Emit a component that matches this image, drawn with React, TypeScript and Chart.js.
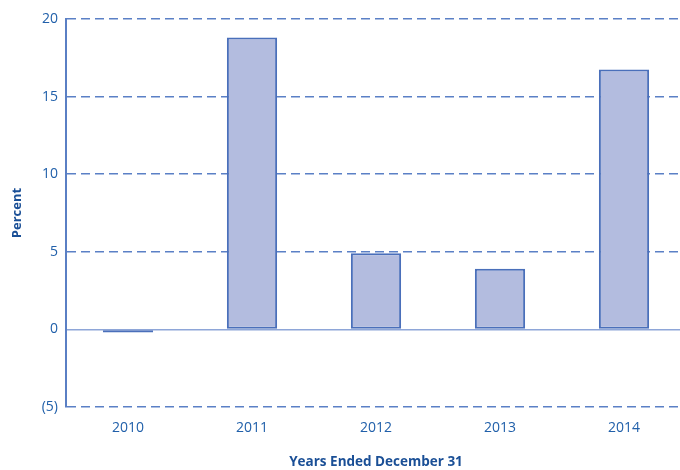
import React, { useEffect, useRef } from "react";
import { Chart, registerables } from "chart.js";

Chart.register(...registerables);

const categories = ["2010", "2011", "2012", "2013", "2014"];
const values = [-0.2, 18.8, 4.9, 3.9, 16.75];
const yTickLabels: Record<number, string> = { 20: "20", 15: "15", 10: "10", 5: "5", 0: "0", [-5]: "(5)" };

const FONT = "'Open Sans', 'Noto Sans', sans-serif";
const TEXT = "#2160aa";
const TITLE = "#1a4f96";
const GRID = "#5b80c6";

export default function App() {
  const ref = useRef<HTMLCanvasElement | null>(null);
  useEffect(() => {
    if (!ref.current) return;
    const chart = new Chart(ref.current, {
      type: "bar",
      data: {
        labels: categories,
        datasets: [
          {
            data: values,
            backgroundColor: "#b3bcdf",
            borderColor: "#4a6fba",
            borderWidth: 2,
            borderSkipped: false,
            barPercentage: 0.405,
            categoryPercentage: 1,
          },
        ],
      },
      options: {
        animation: false,
        responsive: false,
        maintainAspectRatio: false,
        layout: { padding: { top: 19, right: 0, left: 0, bottom: 0 } },
        plugins: { legend: { display: false }, tooltip: { enabled: false } },
        scales: {
          x: {
            grid: { display: false, drawTicks: false },
            border: { display: false },
            ticks: { color: TEXT, font: { family: FONT, size: 14 }, padding: 13 },
            title: {
              display: true,
              text: "Years Ended December 31",
              color: TITLE,
              font: { family: FONT, size: 13.5, weight: "bold" },
              padding: { top: 15, bottom: 0 },
            },
            afterFit: (s: any) => {
              s.height = 63;
            },
          },
          y: {
            min: -5,
            max: 20,
            ticks: {
              stepSize: 5,
              color: TEXT,
              font: { family: FONT, size: 14 },
              padding: 8,
              callback: (v: any) => yTickLabels[v as number] ?? String(v),
            },
            grid: {
              drawTicks: false,
              color: (ctx: any) => (ctx.tick && ctx.tick.value === 0 ? "#8ea6d8" : GRID),
              lineWidth: 1.5,
            },
            border: {
              display: true,
              color: "#5a7fc4",
              width: 2,
              dash: (ctx: any) => (ctx.tick && ctx.tick.value === 0 ? [] : [9, 5]),
            },
            title: {
              display: true,
              text: "Percent",
              color: TITLE,
              font: { family: FONT, size: 13, weight: "bold" },
              padding: { top: 9, bottom: 4 },
            },
            afterFit: (s: any) => {
              s.width = 66;
            },
          },
        },
      },
    });
    return () => chart.destroy();
  }, []);
  return (
    <div style={{ position: "fixed", left: 0, top: 0, width: 680, height: 470, overflow: "hidden", background: "#fff" }}>
      <canvas ref={ref} width={686} height={470} style={{ width: 686, height: 470, display: "block" }} />
    </div>
  );
}
